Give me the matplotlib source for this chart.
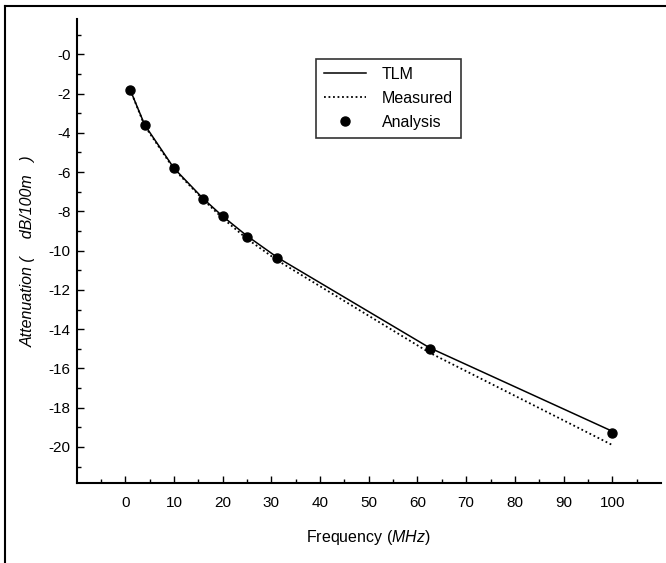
import matplotlib
matplotlib.use("Agg")
import matplotlib.pyplot as plt
from matplotlib.ticker import FixedLocator
from matplotlib.lines import Line2D

plt.rcParams['font.family'] = ['Liberation Sans', 'DejaVu Sans']
plt.rcParams['mathtext.fontset'] = 'custom'
plt.rcParams['mathtext.it'] = 'Liberation Sans:italic'
plt.rcParams['mathtext.rm'] = 'Liberation Sans'

# data
freq = [1, 4, 10, 16, 20, 25, 31.25, 62.5, 100]
tlm = [-1.8, -3.6, -5.8, -7.35, -8.25, -9.25, -10.35, -14.95, -19.2]
measured = [-1.8, -3.65, -5.85, -7.4, -8.35, -9.4, -10.5, -15.2, -19.9]
analysis = [-1.8, -3.6, -5.8, -7.35, -8.25, -9.3, -10.4, -15.0, -19.3]

x_ticks = list(range(0, 101, 10))
y_ticks = list(range(0, -21, -2))
y_labels = ["-0"] + [str(v) for v in y_ticks[1:]]

fig = plt.figure(figsize=(6.66, 5.63), dpi=100)
ax = fig.add_axes([0.1149, 0.1426, 0.8776, 0.8231])

ax.plot(freq, tlm, color="black", lw=1.1, label="TLM")
ax.plot(freq, measured, color="black", lw=1.3, ls=(0, (1, 1.5)), label="Measured")
ax.plot(freq, analysis, ls="none", marker="o", ms=6.5, color="black", label="Analysis")

ax.set_xlim(-10, 110)
ax.set_ylim(-21.82, 1.78)

ax.xaxis.set_major_locator(FixedLocator(x_ticks))
ax.xaxis.set_minor_locator(FixedLocator([v + 5 for v in range(-10, 101, 10)]))
ax.yaxis.set_major_locator(FixedLocator(y_ticks))
ax.set_yticklabels(y_labels)
ax.yaxis.set_minor_locator(FixedLocator([v - 1 for v in range(2, -21, -2)]))

for s in ("top", "right"):
    ax.spines[s].set_visible(False)
for s in ("left", "bottom"):
    ax.spines[s].set_linewidth(1.5)

ax.tick_params(which="major", direction="in", length=5, width=1.0, labelsize=11)
ax.tick_params(which="minor", direction="in", length=3, width=1.0)
ax.tick_params(axis="y", pad=4.3)
ax.tick_params(axis="x", pad=9.5)

ax.set_xlabel("Frequency ($\\it{MHz}$)", fontsize=11.5, labelpad=13)
ax.set_ylabel("Attenuation (    dB/100m   )", fontsize=11.5, style="italic", labelpad=9)

leg = ax.legend(loc="upper left", bbox_to_anchor=(0.4752, 0.8952),
                bbox_transform=fig.transFigure, borderaxespad=0,
                fancybox=False, frameon=True, edgecolor="black",
                fontsize=11.5, handlelength=2.6, handletextpad=1.0,
                labelspacing=0.55, borderpad=0.5)
leg.get_frame().set_linewidth(1.2)

# outer frame (left and top edges visible)
fig.add_artist(Line2D([0.0075, 0.0075], [0, 0.989], transform=fig.transFigure, color="black", lw=1.5))
fig.add_artist(Line2D([0.0075, 1.0], [0.989, 0.989], transform=fig.transFigure, color="black", lw=1.5))

fig.savefig("out.png", dpi=100)
